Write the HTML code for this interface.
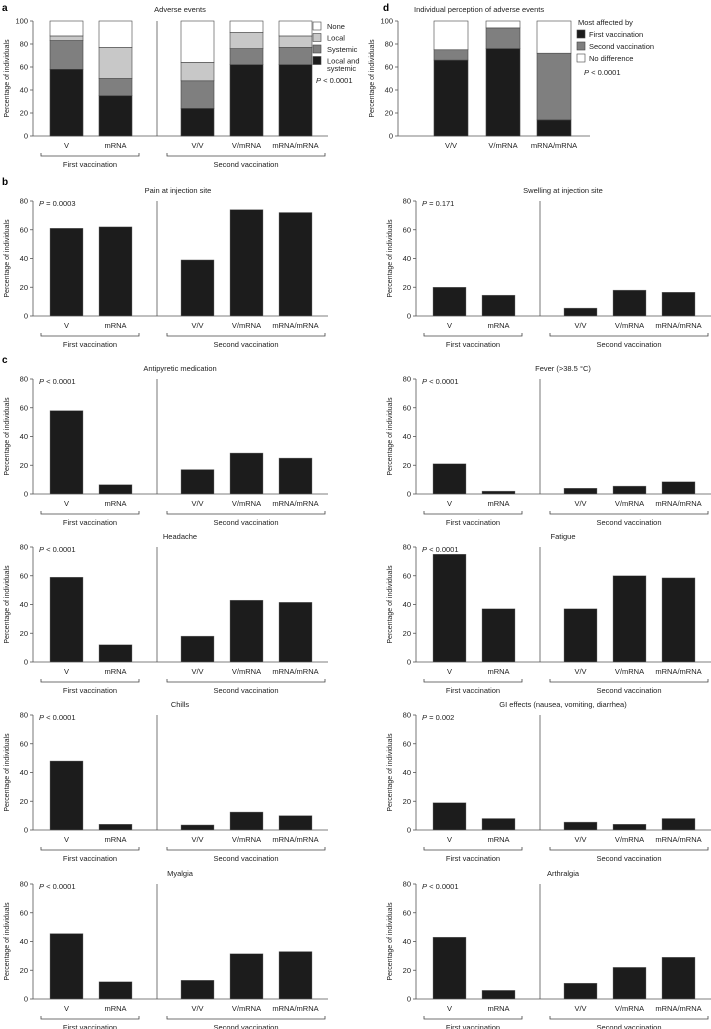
<!DOCTYPE html>
<html><head><meta charset="utf-8">
<style>
html,body{margin:0;padding:0;background:#fff;}
svg{display:block;font-family:"Liberation Sans",Arial,sans-serif;}
</style></head>
<body>
<svg id="fig" width="711" height="1029" viewBox="0 0 711 1029" xmlns="http://www.w3.org/2000/svg"></svg>
<script>
// ---- data ----
const groupCats = ["V","mRNA","V/V","V/mRNA","mRNA/mRNA"];
const stackSeries = ["Local and systemic","Systemic","Local","None"];
const stackLocalSys = [58,35,24,62,62];
const stackSystemic = [25,15,24,14,15];
const stackLocal = [4,27,16,14,10];
const stackNone = [13,23,36,10,13];
const percCats = ["V/V","V/mRNA","mRNA/mRNA"];
const percFirst = [66,76,14];
const percSecond = [9,18,58];
const percNone = [25,6,28];
const pctTicks100 = [0,20,40,60,80,100];
const pctTicks80 = [0,20,40,60,80];
const painVals = [61,62,39,74,72];
const swellVals = [20,14.5,5.5,18,16.5];
const antipyVals = [58,6.5,17,28.5,25];
const feverVals = [21,2,4,5.5,8.5];
const headVals = [59,12,18,43,41.5];
const fatigueVals = [75,37,37,60,58.5];
const chillsVals = [48,4,3.5,12.5,10];
const giVals = [19,8,5.5,4,8];
const myalgiaVals = [45.5,12,13,31.5,33];
const arthVals = [43,6,11,22,29];

const NS="http://www.w3.org/2000/svg";
const svg=document.getElementById('fig');
function el(tag,attrs,parent,text){
  const e=document.createElementNS(NS,tag);
  for(const k in attrs)e.setAttribute(k,attrs[k]);
  if(text!==undefined)e.textContent=text;
  (parent||svg).appendChild(e);return e;
}
function txt(x,y,s,size,anchor,parent,name,extra){
  const t=el('text',Object.assign({x:x,y:y,'font-size':size,'text-anchor':anchor||'start',fill:'#222'},extra||{}),parent,s);
  
  
  return t;
}
const barOffsets=[17,66,148,197,246];
const BW=33;

function axes(g,ax,top,bot,ticks,maxV,xEnd){
  const y=v=>bot-(v/maxV)*(bot-top);
  const yl=el('line',{x1:ax,y1:top,x2:ax,y2:bot,stroke:'#555','stroke-width':0.8},g);
  
  
  const xl=el('line',{x1:ax,y1:bot,x2:xEnd,y2:bot,stroke:'#555','stroke-width':0.8},g);
  
  
  ticks.forEach(t=>{
    el('line',{x1:ax-3,y1:y(t),x2:ax,y2:y(t),stroke:'#555','stroke-width':0.8},g);
    txt(ax-5,y(t)+2.5,String(t),7.5,'end',g,'y-tick-label');
  });
  txt(0,0,'Percentage of individuals',7,'middle',g,'y-axis-title',{transform:`translate(${ax-24},${(top+bot)/2}) rotate(-90)`});
  return y;
}

function barPanel(name,ax,top,vals,title,titleX,pText,letter){
  const g=el('g',{});
  
  
  const bot=top+115;
  if(letter){txt(ax-31,top-16,letter,10,'start',g,'panel-letter',{'font-weight':'bold',fill:'#000'});}
  txt(titleX,top-8,title,7.5,'middle',g,'chart-title');
  const y=axes(g,ax,top,bot,pctTicks80,80,ax+295);
  const d=el('line',{x1:ax+124,y1:top,x2:ax+124,y2:bot,stroke:'#555','stroke-width':0.8},g);
  
  
  const pt=txt(ax+6,top+5,'',7.5,'start',g,'p-value');
  el('tspan',{'font-style':'italic'},pt,'P');
  el('tspan',{},pt,pText);
  vals.forEach((v,i)=>{
    const r=el('rect',{x:ax+barOffsets[i],y:y(v),width:BW,height:bot-y(v),fill:'#1c1c1c',stroke:'#777','stroke-width':0.4},g);
    
    
  });
  groupLabels(g,ax,bot);
}
function groupLabels(g,ax,bot){
  groupCats.forEach((c,i)=>txt(ax+barOffsets[i]+BW/2,bot+12,c,7.5,'middle',g,'x-tick-label'));
  const by=bot+20;
  [[ax+8,ax+106,'First vaccination'],[ax+134,ax+292,'Second  vaccination']].forEach(b=>{
    const p=el('path',{d:`M${b[0]} ${by-3}V${by}H${b[1]}V${by-3}`,fill:'none',stroke:'#444','stroke-width':0.8},g);
    
    
    txt((b[0]+b[1])/2,by+11,b[2],7.5,'middle',g,'group-label');
  });
}

// ---- panel a ----
(function(){
  const g=el('g',{});
  
  
  const ax=33,top=21,bot=136;
  txt(2,11,'a',10,'start',g,'panel-letter',{'font-weight':'bold',fill:'#000'});
  txt(180,12,'Adverse events',7.5,'middle',g,'chart-title');
  const y=axes(g,ax,top,bot,pctTicks100,100,ax+295);
  const d=el('line',{x1:ax+124,y1:top,x2:ax+124,y2:bot,stroke:'#555','stroke-width':0.8},g);
  
  
  const series=[stackLocalSys,stackSystemic,stackLocal,stackNone];
  const cols=['#1c1c1c','#7f7f7f','#c8c8c8','#ffffff'];
  groupCats.forEach((c,i)=>{
    let acc=0;
    series.forEach((s,k)=>{
      const r=el('rect',{x:ax+barOffsets[i],y:y(acc+s[i]),width:BW,height:y(acc)-y(acc+s[i]),fill:cols[k],stroke:'#444','stroke-width':0.6},g);
      
      
      acc+=s[i];
    });
  });
  groupLabels(g,ax,bot);
  const leg=[['None','#fff'],['Local','#c8c8c8'],['Systemic','#7f7f7f'],['Local and','#1c1c1c']];
  leg.forEach((l,i)=>{
    const ly=22+i*11.5;
    const r=el('rect',{x:313,y:ly,width:8,height:8,fill:l[1],stroke:'#444','stroke-width':0.6},g);
    
    
    txt(327,ly+7,l[0],7.5,'start',g,'legend-entry');
  });
  txt(327,71,'systemic',7.5,'start',g,'legend-entry');
  const pt=txt(316,83,'',7.5,'start',g,'p-value');
  el('tspan',{'font-style':'italic'},pt,'P');
  el('tspan',{},pt,' < 0.0001');
})();

// ---- panel d ----
(function(){
  const g=el('g',{});
  
  
  const ax=398,top=21,bot=136;
  txt(383,11,'d',10,'start',g,'panel-letter',{'font-weight':'bold',fill:'#000'});
  txt(414,12,'Individual perception of adverse events',7.5,'start',g,'chart-title');
  const y=axes(g,ax,top,bot,pctTicks100,100,590);
  const offs=[36,88,139];
  const series=[percFirst,percSecond,percNone];
  const cols=['#1c1c1c','#7f7f7f','#ffffff'];
  percCats.forEach((c,i)=>{
    let acc=0;
    series.forEach((s,k)=>{
      const r=el('rect',{x:ax+offs[i],y:y(acc+s[i]),width:34,height:y(acc)-y(acc+s[i]),fill:cols[k],stroke:'#444','stroke-width':0.6},g);
      
      
      acc+=s[i];
    });
    txt(ax+offs[i]+17,bot+12,c,7.5,'middle',g,'x-tick-label');
  });
  txt(578,25,'Most affected by',7.5,'start',g,'legend-title');
  [['First vaccination','#1c1c1c'],['Second vaccination','#7f7f7f'],['No difference','#fff']].forEach((l,i)=>{
    const ly=30+i*12;
    const r=el('rect',{x:577,y:ly,width:8,height:8,fill:l[1],stroke:'#444','stroke-width':0.6},g);
    
    
    txt(589,ly+7,l[0],7.5,'start',g,'legend-entry');
  });
  const pt=txt(584,75,'',7.5,'start',g,'p-value');
  el('tspan',{'font-style':'italic'},pt,'P');
  el('tspan',{},pt,' < 0.0001');
})();

// ---- panels b, c ----
const L=33,R=416;
barPanel('pain-chart',L,201,painVals,'Pain at injection site',178,' = 0.0003','b');
barPanel('swelling-chart',R,201,swellVals,'Swelling at injection site',563,' = 0.171');
barPanel('antipyretic-chart',L,379,antipyVals,'Antipyretic medication',180,' < 0.0001','c');
barPanel('fever-chart',R,379,feverVals,'Fever (>38.5 °C)',563,' < 0.0001');
barPanel('headache-chart',L,547,headVals,'Headache',180,' < 0.0001');
barPanel('fatigue-chart',R,547,fatigueVals,'Fatigue',563,' < 0.0001');
barPanel('chills-chart',L,715,chillsVals,'Chills',180,' < 0.0001');
barPanel('gi-chart',R,715,giVals,'GI effects (nausea, vomiting, diarrhea)',563,' = 0.002');
barPanel('myalgia-chart',L,884,myalgiaVals,'Myalgia',180,' < 0.0001');
barPanel('arthralgia-chart',R,884,arthVals,'Arthralgia',563,' < 0.0001');
</script>
</body></html>
